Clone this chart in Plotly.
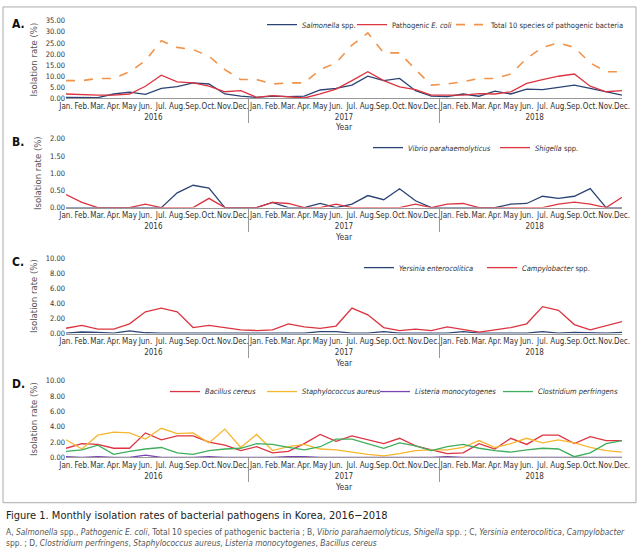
import plotly.graph_objects as go

months = ["Jan.", "Feb.", "Mar.", "Apr.", "May", "Jun.", "Jul.", "Aug.", "Sep.", "Oct.", "Nov.", "Dec."]
years = ["2016", "2017", "2018"]

# Panel A
salmonella = [0.5, 0.6, 0.4, 2.0, 2.8, 1.8, 4.5, 5.3, 7.0, 6.5, 2.0, 1.0,
              0.5, 1.0, 0.8, 1.0, 3.8, 4.5, 6.0, 10.0, 8.0, 9.0, 3.5, 1.0,
              0.8, 2.0, 1.0, 3.3, 2.0, 4.2, 4.0, 5.0, 6.0, 4.5, 3.0, 1.5]
ecoli = [2.0, 1.7, 1.5, 1.5, 2.0, 5.5, 10.5, 7.5, 7.0, 5.5, 3.0, 3.5,
         0.5, 1.3, 0.9, 0.2, 2.0, 4.2, 8.0, 12.0, 8.0, 5.2, 4.0, 1.5,
         1.5, 1.5, 2.2, 2.0, 3.0, 6.8, 8.5, 10.0, 11.0, 5.5, 3.0, 3.5]
total10 = [8.0, 8.0, 9.0, 9.0, 12.0, 17.0, 26.0, 23.0, 22.0, 19.0, 13.0, 8.5,
           8.5, 6.5, 7.0, 7.0, 13.0, 16.0, 24.0, 29.5, 20.5, 20.5, 13.0, 6.0,
           6.5, 7.5, 9.0, 9.0, 11.0, 18.0, 23.0, 25.0, 23.0, 16.0, 12.0, 12.0]

# Panel B
vibrio = [0, 0, 0, 0, 0, 0, 0, 0.43, 0.65, 0.57, 0, 0,
          0, 0.15, 0, 0, 0.12, 0, 0.1, 0.35, 0.23, 0.55, 0.2, 0,
          0, 0, 0, 0, 0.1, 0.12, 0.33, 0.27, 0.33, 0.55, 0, 0]
shigella = [0.38, 0.15, 0, 0, 0, 0.1, 0, 0, 0, 0.27, 0, 0,
            0, 0.15, 0.12, 0, 0, 0.1, 0, 0, 0, 0, 0.1, 0,
            0.1, 0.12, 0, 0, 0, 0, 0, 0.1, 0.16, 0.1, 0, 0.3]

# Panel C
yersinia = [0.05, 0.2, 0.15, 0.05, 0.35, 0.1, 0.05, 0.05, 0.05, 0.05, 0.15, 0.05,
            0.05, 0.05, 0.15, 0.05, 0.25, 0.25, 0.05, 0.05, 0.25, 0.05, 0.05, 0.05,
            0.05, 0.25, 0.05, 0.05, 0.1, 0.05, 0.25, 0.05, 0.15, 0.05, 0.05, 0.15]
campylo = [0.7, 1.1, 0.6, 0.6, 1.3, 2.9, 3.4, 2.9, 0.8, 1.1, 0.8, 0.5,
           0.4, 0.5, 1.3, 0.9, 0.7, 1.0, 3.4, 2.5, 0.8, 0.4, 0.6, 0.4,
           0.9, 0.6, 0.2, 0.5, 0.8, 1.3, 3.6, 3.1, 1.2, 0.5, 1.1, 1.6]

# Panel D
bacillus = [1.2, 1.8, 1.7, 1.2, 1.2, 3.2, 2.3, 2.8, 2.8, 2.0, 1.6, 0.9,
            1.4, 0.6, 0.8, 1.8, 3.0, 2.1, 2.8, 2.3, 1.8, 2.5, 1.5, 1.0,
            0.5, 0.6, 1.8, 1.1, 2.5, 1.7, 2.9, 2.9, 1.8, 2.7, 2.2, 2.2]
staph = [2.3, 1.1, 2.9, 3.3, 3.2, 2.4, 3.8, 3.1, 3.2, 1.9, 3.7, 1.3,
         3.0, 0.9, 1.4, 1.7, 1.1, 1.0, 0.7, 0.4, 0.2, 0.5, 0.9, 1.0,
         1.0, 1.3, 2.2, 1.3, 1.8, 2.5, 1.9, 2.3, 1.9, 1.3, 0.9, 0.7]
listeria = [0.1, 0, 0.1, 0, 0, 0.3, 0, 0, 0, 0.1, 0, 0,
            0, 0, 0.1, 0.1, 0, 0, 0, 0, 0, 0, 0, 0,
            0.1, 0, 0, 0, 0, 0, 0, 0, 0, 0, 0, 0]
clostridium = [0.8, 1.0, 1.6, 0.4, 0.8, 1.1, 1.3, 0.6, 0.4, 0.9, 1.1, 1.2,
               1.8, 1.7, 1.3, 1.0, 1.4, 2.4, 2.4, 1.8, 1.2, 1.9, 1.5, 0.9,
               1.4, 1.7, 1.2, 0.9, 0.7, 1.0, 1.2, 1.1, 0.1, 0.6, 1.8, 2.2]

x_years = [y for y in years for _ in months]
x_months = months * len(years)
xcat = [x_years, x_months]

NAVY = "#2B4474"
RED = "#DC3440"
ORANGE = "#F2934B"
YELLOW = "#F6B730"
PURPLE = "#7B45B5"
GREEN = "#3FAE5C"
FONT = "Liberation Sans Narrow, DejaVu Sans Condensed, sans-serif"

W, H = 640, 550
def py(px):
    return 1 - px / H

panels = [
    (17, 96, 35, 5, "A."),
    (137, 207, 2, 0.5, "B."),
    (259, 335, 10, 2, "C."),
    (383, 461, 10, 2, "D."),
]

# (values, name, colour, dash, legend text start px)
series = [
    [(salmonella, "<i>Salmonella</i> spp.", NAVY, "solid", 300),
     (ecoli, "Pathogenic <i>E. coli</i>", RED, "solid", 390),
     (total10, "Total 10 species of pathogenic bacteria", ORANGE, "dash", 489)],
    [(vibrio, "<i>Vibrio parahaemolyticus</i>", NAVY, "solid", 406),
     (shigella, "<i>Shigella</i> spp.", RED, "solid", 533)],
    [(yersinia, "<i>Yersinia enterocolitica</i>", NAVY, "solid", 397),
     (campylo, "<i>Campylobacter</i> spp.", RED, "solid", 520)],
    [(bacillus, "<i>Bacillus cereus</i>", RED, "solid", 203),
     (staph, "<i>Staphylococcus aureus</i>", YELLOW, "solid", 300),
     (listeria, "<i>Listeria monocytogenes</i>", PURPLE, "solid", 413),
     (clostridium, "<i>Clostridium perfringens</i>", GREEN, "solid", 536)],
]

legend_y = [21, 146, 268, 394]

fig = go.Figure()
layout = dict(
    width=W, height=H,
    margin=dict(l=0, r=0, t=0, b=0),
    paper_bgcolor="white", plot_bgcolor="white",
    font=dict(family=FONT, size=9, color="#333"),
    showlegend=True,
)
annotations = []
leg_idx = 0
for i, ((top, bot, ymax, dtick, lab), ser) in enumerate(zip(panels, series)):
    n = "" if i == 0 else str(i + 1)
    for vals, name, color, dash, tx in ser:
        leg_idx += 1
        lname = "legend" if leg_idx == 1 else "legend" + str(leg_idx)
        fig.add_trace(go.Scatter(
            x=xcat, y=vals, name=name, mode="lines",
            line=dict(color=color, width=1.6 if dash == "dash" else 1.3, dash=dash),
            xaxis="x" + n, yaxis="y" + n, legend=lname,
        ))
        layout[lname] = dict(
            orientation="h", x=(tx - 38) / W, xanchor="left",
            y=py(legend_y[i]), yanchor="middle",
            bgcolor="rgba(0,0,0,0)", font=dict(size=7.5, color="#333"),
            itemwidth=30, borderwidth=0,
        )
    layout["xaxis" + n] = dict(
        type="multicategory", domain=[66 / W, 622 / W], anchor="y" + n,
        showline=True, linecolor="#999", linewidth=1,
        showdividers=True, dividercolor="#999", dividerwidth=1,
        ticks="outside", ticklen=4, tickcolor="rgba(0,0,0,0)",
        tickangle=0, tickfont=dict(size=8, color="#333"),
        showgrid=False, zeroline=False,
        title=dict(text="Year", font=dict(size=8.5, color="#333"), standoff=3),
    )
    layout["yaxis" + n] = dict(
        domain=[py(bot), py(top)], anchor="x" + n,
        range=[0, ymax], dtick=dtick, tick0=0, tickformat=".2f",
        showgrid=False, zeroline=False, showline=False,
        tickfont=dict(size=7.5, color="#333"), ticks="",
        title=dict(text="Isolation rate (%)", font=dict(size=9.5, color="#555"), standoff=6),
    )
    annotations.append(dict(
        text="<b>" + lab + "</b>", x=10 / W, y=py(top + 3), xref="paper", yref="paper",
        xanchor="left", yanchor="middle", showarrow=False,
        font=dict(size=12, color="#111", family="DejaVu Sans Condensed, sans-serif"),
    ))

annotations.append(dict(
    text="Figure 1. Monthly isolation rates of bacterial pathogens in Korea, 2016\u22122018",
    x=4 / W, y=py(520), xref="paper", yref="paper", xanchor="left", yanchor="middle",
    showarrow=False, font=dict(size=11, color="#222", family="DejaVu Sans Condensed, sans-serif"),
))
annotations.append(dict(
    text="A, <i>Salmonella</i> spp., <i>Pathogenic E. coli</i>, Total 10 species of pathogenic bacteria ; B, "
         "<i>Vibrio parahaemolyticus</i>, <i>Shigella</i> spp. ; C, <i>Yersinia enterocolitica</i>, <i>Campylobacter</i>"
         "<br>spp. ; D, <i>Clostridium perfringens</i>, <i>Staphylococcus aureus</i>, <i>Listeria monocytogenes</i>, <i>Bacillus cereus</i>",
    x=4 / W, y=py(530), xref="paper", yref="paper", xanchor="left", yanchor="top", align="left",
    showarrow=False, font=dict(size=8.4, color="#555", family="DejaVu Sans Condensed, sans-serif"),
))
layout["annotations"] = annotations
layout["shapes"] = [dict(
    type="rect", xref="paper", yref="paper", x0=3 / W, x1=636 / W, y0=py(507), y1=py(3),
    line=dict(color="#AAA", width=1), fillcolor="rgba(0,0,0,0)", layer="below",
)]
fig.update_layout(**layout)
fig.write_html("out.html", config={"displayModeBar": False},
               post_script="document.body.style.margin='0';document.body.style.overflow='hidden';")
